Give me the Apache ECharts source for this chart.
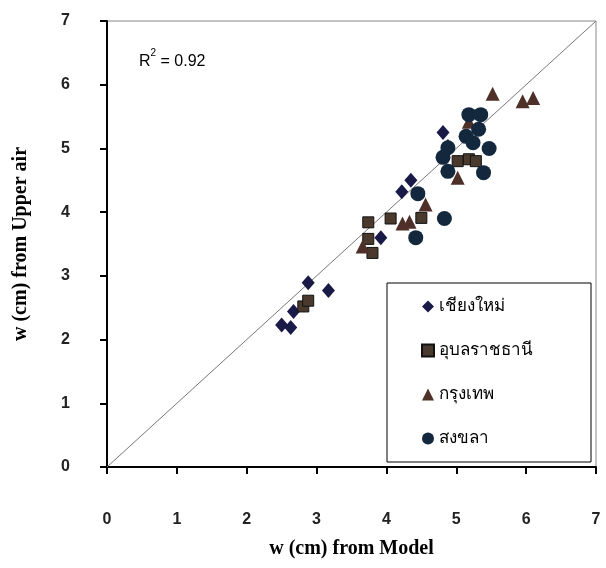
<!DOCTYPE html>
<html>
<head>
<meta charset="utf-8">
<script src="https://cdn.jsdelivr.net/npm/echarts@6/dist/echarts.min.js"></script>
<style>
  html, body { margin: 0; padding: 0; background: #fff; }
  #chart { width: 606px; height: 568px; }
</style>
</head>
<body>
<div id="chart"></div>
<script>
// values, [model, upper air]
var seriesNames = ['เชียงใหม่', 'อุบลราชธานี', 'กรุงเทพ', 'สงขลา'];
var chiangMai = [[2.50, 2.23], [2.63, 2.19], [2.67, 2.44], [2.88, 2.89], [3.17, 2.77],
    [3.92, 3.60], [4.22, 4.32], [4.35, 4.50], [4.81, 5.25], [4.88, 5.03]];
var ubon = [[2.81, 2.52], [2.88, 2.61], [3.74, 3.84], [3.74, 3.58], [3.80, 3.36],
    [4.06, 3.90], [4.50, 3.91], [5.02, 4.80], [5.18, 4.83], [5.28, 4.80]];
var bangkok = [[3.66, 3.46], [4.23, 3.82], [4.33, 3.85], [4.56, 4.12], [5.02, 4.54],
    [5.18, 5.42], [5.52, 5.86], [5.95, 5.74], [6.10, 5.79]];
var songkhla = [[4.42, 3.60], [4.45, 4.29], [4.83, 3.90], [4.81, 4.86], [4.88, 4.64],
    [4.88, 5.01], [5.14, 5.19], [5.24, 5.09], [5.32, 5.30], [5.18, 5.53],
    [5.35, 5.53], [5.47, 5.00], [5.39, 4.62]];
var oneToOne = [[0, 0], [7, 7]];
var rSquared = '0.92';

var myChart = echarts.init(document.getElementById('chart'));

var axisCommon = {
    type: 'value',
    min: 0,
    max: 7,
    interval: 1,
    nameLocation: 'middle',
    nameTextStyle: {
        fontFamily: 'Liberation Serif',
        fontWeight: 'bold',
        fontSize: 20,
        color: '#000'
    },
    axisLine: { show: true, lineStyle: { color: '#000', width: 2 } },
    axisTick: { show: true, inside: false, length: 7, lineStyle: { color: '#000', width: 2 } },
    splitLine: { show: false },
    axisLabel: {
        fontFamily: 'Liberation Sans',
        fontWeight: 'bold',
        fontSize: 16,
        color: '#222'
    }
};

var option = {
    backgroundColor: '#fff',
    animation: false,
    grid: {
        left: 107,
        top: 21,
        right: 10,
        bottom: 101,
        outerBoundsMode: 'none',
        containLabel: false,
        show: true,
        borderColor: '#888',
        borderWidth: 1
    },
    xAxis: Object.assign({}, axisCommon, {
        name: 'w (cm) from Model',
        nameGap: 72,
        axisLabel: Object.assign({}, axisCommon.axisLabel, { margin: 45 })
    }),
    yAxis: Object.assign({}, axisCommon, {
        name: 'w (cm) from Upper air',
        nameGap: 76,
        axisLabel: Object.assign({}, axisCommon.axisLabel, { margin: 37 })
    }),
    legend: {
        data: seriesNames,
        orient: 'vertical',
        left: 387,
        top: 283,
        padding: [15, 58, 15, 34],
        itemGap: 27,
        itemWidth: 12,
        itemHeight: 12,
        backgroundColor: '#fff',
        borderColor: '#000',
        borderWidth: 1,
        textStyle: {
            fontFamily: 'Noto Sans, DejaVu Sans, sans-serif',
            fontSize: 17,
            color: '#000'
        }
    },
    graphic: [{
        type: 'text',
        left: 139,
        top: 48,
        style: {
            text: '{a|R}{b|2}{a| = ' + rSquared + '}',
            rich: {
                a: { fontFamily: 'Liberation Sans', fontSize: 16, color: '#000', verticalAlign: 'bottom', lineHeight: 22 },
                b: { fontFamily: 'Liberation Sans', fontSize: 10, color: '#000', verticalAlign: 'top', lineHeight: 22 }
            }
        }
    }],
    series: [
        {
            name: '1:1',
            type: 'line',
            data: oneToOne,
            symbol: 'none',
            silent: true,
            lineStyle: { color: '#777', width: 1 },
            z: 1
        },
        {
            name: seriesNames[0],
            type: 'scatter',
            data: chiangMai,
            symbol: 'diamond',
            symbolSize: [13, 15],
            itemStyle: { color: '#1a1a48', opacity: 1 }
        },
        {
            name: seriesNames[1],
            type: 'scatter',
            data: ubon,
            symbol: 'rect',
            symbolSize: 11,
            itemStyle: { color: '#4a3a2e', borderColor: '#111', borderWidth: 1, opacity: 1 }
        },
        {
            name: seriesNames[2],
            type: 'scatter',
            data: bangkok,
            symbol: 'triangle',
            symbolSize: 14,
            itemStyle: { color: '#4f3028', opacity: 1 }
        },
        {
            name: seriesNames[3],
            type: 'scatter',
            data: songkhla,
            symbol: 'circle',
            symbolSize: 15,
            itemStyle: { color: '#14283d', opacity: 1 }
        }
    ]
};
myChart.setOption(option);
</script>
</body>
</html>
